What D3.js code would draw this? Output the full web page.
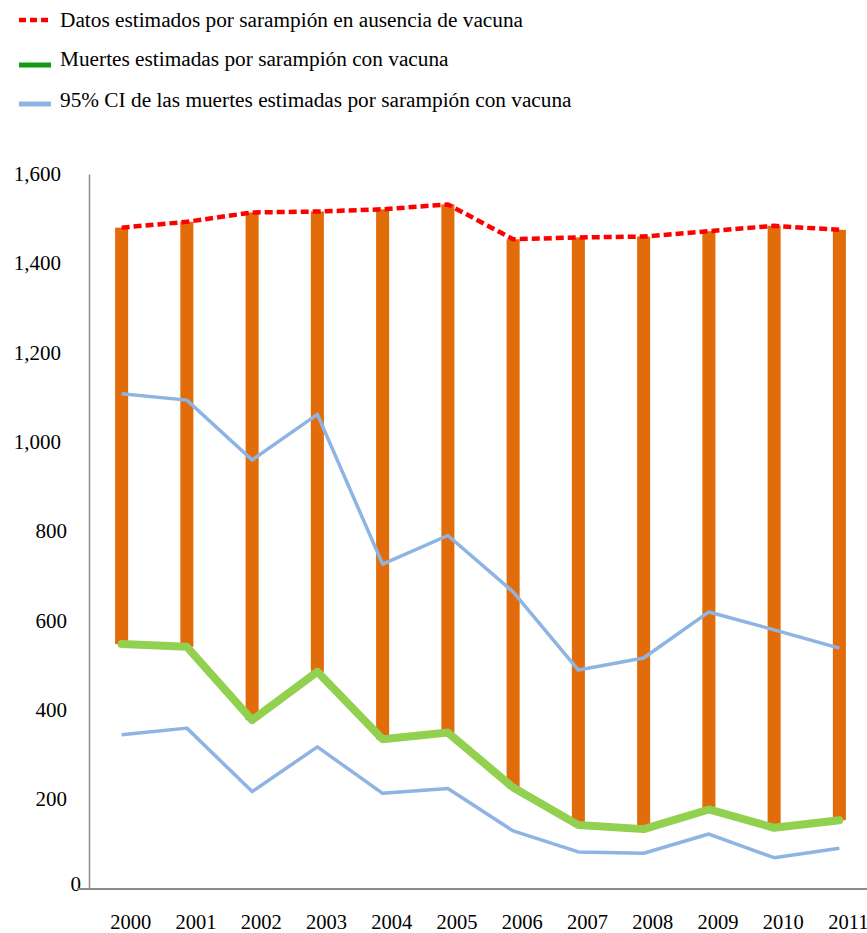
<!DOCTYPE html>
<html><head><meta charset="utf-8">
<script src="https://cdn.jsdelivr.net/npm/d3@7"></script>
<style>body{margin:0;background:#fff}svg{display:block}text{font-family:"Liberation Serif","Times New Roman",serif;fill:#000}</style>
</head><body>
<script>
const years = ["2000","2001","2002","2003","2004","2005","2006","2007","2008","2009","2010","2011"];
const noVaccine = [1480,1493,1514,1516,1521,1532,1454,1458,1460,1472,1484,1475];
const withVaccine = [548,542,378,486,335,350,227,143,134,178,137,154];
const ciUpper = [1108,1094,960,1062,727,791,665,490,517,620,580,539];
const ciLower = [345,360,218,318,214,225,130,83,80,123,70,91];
const yTicks = [0,200,400,600,800,1000,1200,1400,1600];
const legendLabels = ["Datos estimados por sarampión en ausencia de vacuna","Muertes estimadas por sarampión con vacuna","95% CI de las muertes estimadas por sarampión con vacuna"];

const W=867,H=933;
const svg=d3.select("body").append("svg").attr("width",W).attr("height",H);
const x=d3.scaleBand().domain(years).range([89,872]).paddingInner(0.8).paddingOuter(0.4);
const y=d3.scaleLinear().domain([0,1600]).range([889,174]);
const cx=d=>x(d)+x.bandwidth()/2;

// axes
const yAxis=svg.append("g").attr("transform","translate(89,0)")
  .call(d3.axisLeft(y).tickValues(yTicks).tickSize(0).tickFormat(d3.format(",")));
yAxis.select(".domain").attr("stroke","#8c8c8c").attr("stroke-width",1.5);
yAxis.selectAll("text").attr("font-size",21).attr("font-family","Liberation Serif").attr("fill","#000")
  .attr("x",d=>d===0?-8:(d>=1000?-28:-22)).attr("dy",d=>d===0?"0.05em":"0.3em");
const xAxis=svg.append("g").attr("transform","translate(0,889)")
  .call(d3.axisBottom(x).tickSize(0));
xAxis.select(".domain").attr("d","M77,0H867").attr("stroke","#8c8c8c").attr("stroke-width",2);
xAxis.selectAll("text").attr("font-size",20.5).attr("font-family","Liberation Serif").attr("fill","#000")
  .attr("dx",9).attr("y",25);

// bars
svg.append("g").selectAll("rect").data(years).join("rect")
  .attr("x",d=>x(d)).attr("width",x.bandwidth())
  .attr("y",(d,i)=>y(noVaccine[i])).attr("height",(d,i)=>y(withVaccine[i])-y(noVaccine[i]))
  .attr("fill","#e36c0a");

const line=d3.line().x((d,i)=>cx(years[i])).y(d=>y(d));
svg.append("path").attr("d",line(ciUpper)).attr("fill","none").attr("stroke","#8db4e2").attr("stroke-width",3.5).attr("stroke-linejoin","round");
svg.append("path").attr("d",line(ciLower)).attr("fill","none").attr("stroke","#8db4e2").attr("stroke-width",3.5).attr("stroke-linejoin","round");
svg.append("path").attr("d",line(withVaccine)).attr("fill","none").attr("stroke","#92d050").attr("stroke-width",8).attr("stroke-linejoin","round").attr("stroke-linecap","round");
svg.append("path").attr("d",line(noVaccine)).attr("fill","none").attr("stroke","#ff0000").attr("stroke-width",4.5).attr("stroke-dasharray","8,4").attr("stroke-linejoin","round");

// legend
const lg=svg.append("g");
const ly=[20,65,104];
lg.append("line").attr("x1",19).attr("x2",48).attr("y1",ly[0]).attr("y2",ly[0]).attr("stroke","#ff0000").attr("stroke-width",4.5).attr("stroke-dasharray","7,4");
lg.append("line").attr("x1",19).attr("x2",51).attr("y1",ly[1]).attr("y2",ly[1]).attr("stroke","#109b10").attr("stroke-width",5);
lg.append("line").attr("x1",19).attr("x2",51).attr("y1",ly[2]).attr("y2",ly[2]).attr("stroke","#8db4e2").attr("stroke-width",5);
lg.selectAll("text").data(legendLabels).join("text")
  .attr("x",60).attr("y",(d,i)=>[27,66,107][i]).attr("font-family","Liberation Serif").attr("font-size",21.3).text(d=>d);
</script>
</body></html>
